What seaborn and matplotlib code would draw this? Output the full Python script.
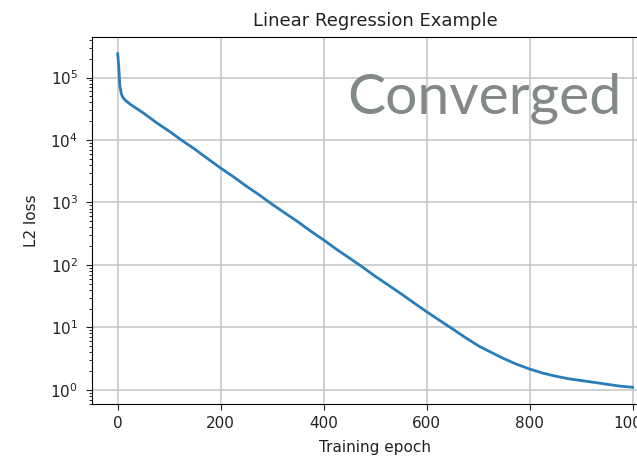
import pandas as pd
import matplotlib
matplotlib.use("Agg")
import matplotlib.pyplot as plt
import seaborn as sns

# Valores (perdida L2 por epoca)
epocas = [0, 2, 4, 7, 10, 15, 25, 50, 75, 100, 125, 150, 175, 200, 225, 250, 275,
          300, 325, 350, 375, 400, 425, 450, 475, 500, 525, 550, 575, 600, 625,
          650, 675, 700, 725, 750, 775, 800, 825, 850, 875, 900, 925, 950, 975, 1000]
perdida = [240000, 150000, 75000, 55000, 48000, 43000, 37000, 27000, 19000, 13800,
           9800, 7100, 5000, 3550, 2570, 1820, 1320, 933, 676, 490, 347, 251, 178,
           129, 93, 66, 47.9, 34.7, 24.8, 17.8, 13.0, 9.5, 6.9, 5.1, 4.0, 3.16, 2.57,
           2.16, 1.86, 1.66, 1.51, 1.41, 1.32, 1.23, 1.15, 1.10]

df = pd.DataFrame({'Epoca': epocas, 'Perdida': perdida})

fig = plt.figure(figsize=(6.37, 4.58), dpi=100)
ax = fig.add_axes([0.1444, 0.118, 0.889, 0.801])
sns.lineplot(x='Epoca', y='Perdida', data=df, ax=ax, color='#2a7db9', linewidth=2)
ax.set_yscale('log')
ax.grid(True, which='major', color='#c8c8c8', linewidth=1.2)
ax.set_axisbelow(True)
ax.tick_params(labelsize=11, colors='#222222', length=4)
ax.tick_params(axis='y', pad=6)
ax.tick_params(axis='x', pad=5)
ax.set_title('Linear Regression Example', fontsize=13, pad=8, color='#222222')
ax.set_xlabel('Training epoch', fontsize=11, labelpad=6, color='#222222')
ax.set_ylabel('L2 loss', fontsize=11, labelpad=8, color='#222222')

fig.text(0.545, 0.753, 'Converged', fontsize=41, color='#838889',
         family=['Lato', 'DejaVu Sans'], ha='left', va='baseline')

plt.savefig('out.png', dpi=100)
